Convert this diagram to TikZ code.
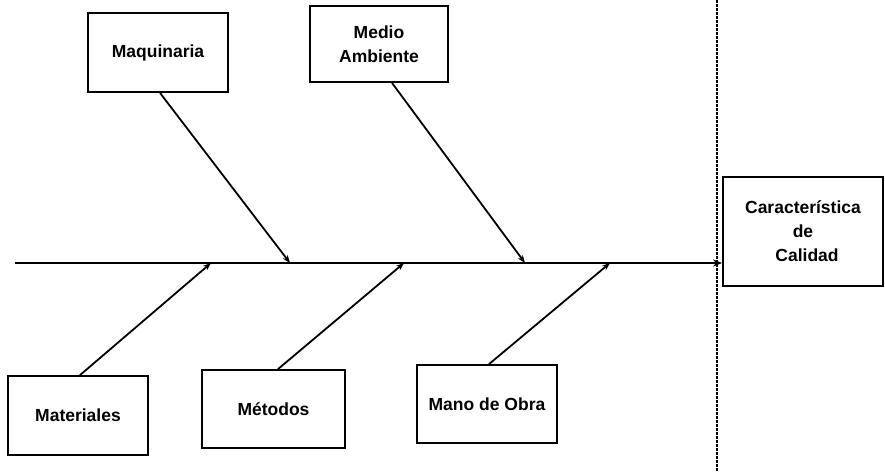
\documentclass[tikz,border=0pt]{standalone}
\usepackage{fontspec}
\setmainfont{Liberation Sans}
\usetikzlibrary{arrows.meta,calc}
\begin{document}
\begin{tikzpicture}[x=1pt,y=-1pt,
  cbox/.style={draw,line width=1.8pt,inner sep=0pt,align=center,font=\bfseries\fontsize{17.5}{24}\selectfont},
  bone/.style={line width=1.8pt,-{Stealth[length=8pt,width=6pt]}},
  spine/.style={line width=2pt,-{Stealth[length=9pt,width=7pt]}}]
\useasboundingbox (0,0) rectangle (885,472);
% boxes
\node[cbox,minimum width=140,minimum height=79] (maq) at (158,52.5) {Maquinaria};
\node[cbox,minimum width=138,minimum height=76] (med) at (379,44) {Medio\\Ambiente};
\node[cbox,minimum width=160,minimum height=109] (car) at (803,231.5) {Característica\\de\\\hspace*{8pt}Calidad};
\node[cbox,minimum width=140,minimum height=79] (mat) at (78,415.5) {Materiales};
\node[cbox,minimum width=143,minimum height=78] (met) at (273.5,409) {Métodos};
\node[cbox,minimum width=140,minimum height=78] (man) at (487,404) {Mano de Obra};
% dotted separator
\coordinate (dtop) at (717,0);
\coordinate (dbot) at (717,472);
\draw[line width=2pt,dash pattern=on 2.5pt off 1.5pt] (dtop) -- (dbot);
% spine
\coordinate (s0) at (15,263);
\draw[spine] (s0) -- (s0 -| car.west);
% bones
\coordinate (p1) at (290,263);
\coordinate (p2) at (525,263);
\coordinate (p3) at (211,263);
\coordinate (p4) at (404,263);
\coordinate (p5) at (610,263);
\draw[bone] ($(maq.south)+(2,0)$) -- (p1);
\draw[bone] ($(med.south)+(13,0)$) -- (p2);
\draw[bone] ($(mat.north)+(2,0)$) -- (p3);
\draw[bone] ($(met.north)+(4.5,0)$) -- (p4);
\draw[bone] ($(man.north)+(2,0)$) -- (p5);
\end{tikzpicture}
\end{document}
